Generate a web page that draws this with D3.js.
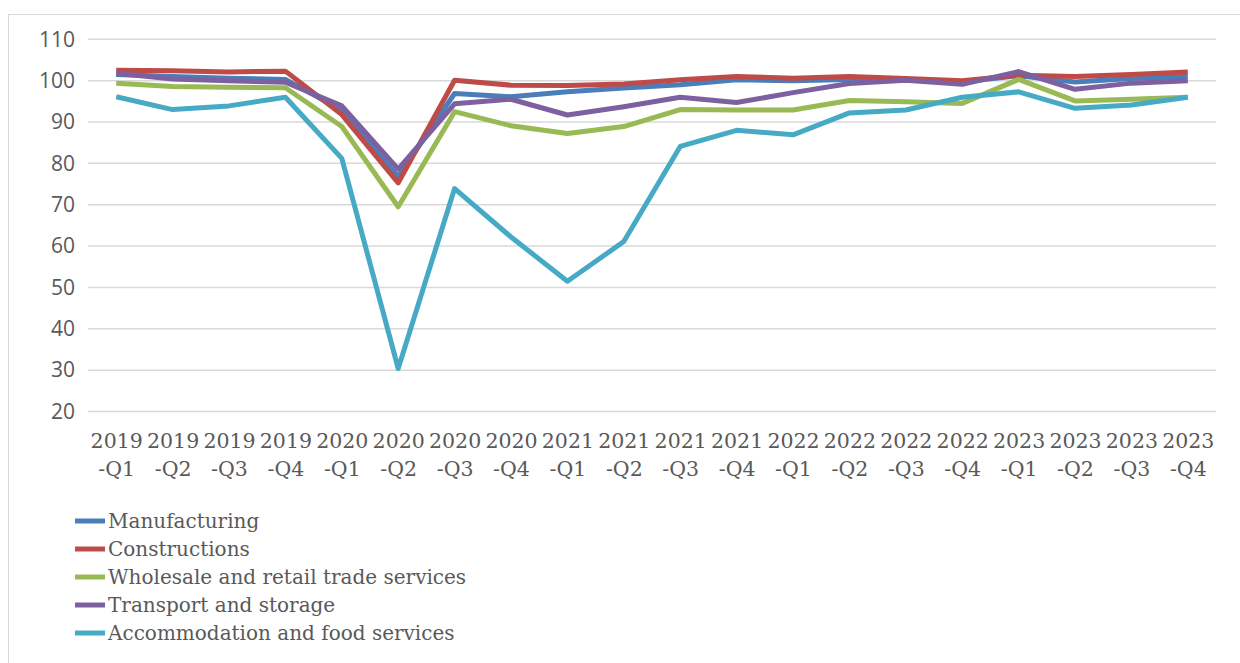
<!DOCTYPE html>
<html>
<head>
<meta charset="utf-8">
<script src="https://cdn.jsdelivr.net/npm/d3@7"></script>
<style>
  html, body { margin: 0; padding: 0; background: #ffffff; }
  svg { display: block; }
</style>
</head>
<body>
<svg id="chart" width="1240" height="663"></svg>
<script>
// Quarterly index values by sector
const quarters = ["2019-Q1","2019-Q2","2019-Q3","2019-Q4","2020-Q1","2020-Q2","2020-Q3","2020-Q4",
  "2021-Q1","2021-Q2","2021-Q3","2021-Q4","2022-Q1","2022-Q2","2022-Q3","2022-Q4",
  "2023-Q1","2023-Q2","2023-Q3","2023-Q4"];

const manufacturing = [101.5, 101.0, 100.6, 100.3, 92.8, 76.8, 96.9, 96.1, 97.3, 98.2,
  99.0, 100.2, 100.0, 100.3, 100.3, 99.7, 101.2, 99.7, 100.5, 101.0];
const constructions = [102.5, 102.4, 102.1, 102.3, 91.8, 75.3, 100.1, 98.9, 98.8, 99.2,
  100.2, 101.0, 100.6, 101.0, 100.5, 100.0, 101.3, 101.0, 101.5, 102.1];
const wholesale = [99.4, 98.6, 98.4, 98.3, 88.9, 69.5, 92.5, 89.1, 87.2, 88.9,
  93.0, 92.9, 92.9, 95.2, 94.9, 94.5, 100.3, 95.1, 95.5, 96.0];
const transport = [101.8, 100.4, 100.0, 99.6, 93.9, 78.6, 94.4, 95.5, 91.7, 93.7,
  96.0, 94.7, 97.1, 99.3, 100.1, 99.1, 102.2, 97.9, 99.4, 100.0];
const accommodation = [96.1, 93.0, 93.9, 96.0, 81.2, 30.4, 73.9, 62.2, 51.5, 61.1,
  84.1, 88.0, 86.9, 92.2, 92.9, 96.0, 97.3, 93.3, 94.1, 96.0];

const seriesNames = ["Manufacturing", "Constructions", "Wholesale and retail trade services",
  "Transport and storage", "Accommodation and food services"];
const seriesValues = [manufacturing, constructions, wholesale, transport, accommodation];
const seriesColors = ["#4a7ebb", "#be4b48", "#98b954", "#7d60a0", "#46aac5"];

const yTicks = [20, 30, 40, 50, 60, 70, 80, 90, 100, 110];

const svg = d3.select("#chart");

// Outer frame
svg.append("rect")
  .attr("x", 8.5).attr("y", 14.5)
  .attr("width", 1260).attr("height", 700)
  .attr("fill", "none").attr("stroke", "#d9d9d9").attr("stroke-width", 1);

const plot = { left: 88, right: 1216, top: 39.3, bottom: 411.5 };

const x = d3.scalePoint().domain(quarters).range([plot.left, plot.right]).padding(0.5);
const y = d3.scaleLinear().domain([20, 110]).range([plot.bottom, plot.top]);

// Horizontal gridlines
svg.append("g")
  .selectAll("line")
  .data(yTicks)
  .join("line")
  .attr("x1", plot.left).attr("x2", plot.right)
  .attr("y1", d => y(d)).attr("y2", d => y(d))
  .attr("stroke", "#d9d9d9").attr("stroke-width", 1.5);

// Y axis labels
const yAxis = svg.append("g")
  .attr("transform", `translate(${plot.left - 13},0)`)
  .call(d3.axisLeft(y).tickValues(yTicks).tickSize(0).tickPadding(0));
yAxis.select(".domain").remove();
yAxis.selectAll("text")
  .attr("fill", "#595959")
  .style("font-family", "'Open Sans', sans-serif")
  .style("font-size", "21px");

// X axis labels (two lines: year and quarter)
const xAxis = svg.append("g")
  .attr("transform", `translate(0,${plot.bottom})`)
  .call(d3.axisBottom(x).tickSize(0).tickFormat(""));
xAxis.select(".domain").remove();
xAxis.selectAll(".tick text").remove();
xAxis.selectAll(".tick").each(function(d) {
  const parts = d.split("-");
  const t = d3.select(this).append("text")
    .attr("text-anchor", "middle")
    .attr("fill", "#595959")
    .style("font-family", "'DejaVu Serif', serif")
    .style("font-size", "20.5px");
  t.append("tspan").attr("x", 0).attr("y", 36).text(parts[0]);
  t.append("tspan").attr("x", 0).attr("y", 64).text("-" + parts[1]);
});

// Series lines
const line = d3.line()
  .x((d, i) => x(quarters[i]))
  .y(d => y(d));

svg.append("g")
  .selectAll("path")
  .data(seriesValues)
  .join("path")
  .attr("d", d => line(d))
  .attr("fill", "none")
  .attr("stroke", (d, i) => seriesColors[i])
  .attr("stroke-width", 5)
  .attr("stroke-linejoin", "round")
  .attr("stroke-linecap", "butt");

// Legend
const legend = svg.append("g")
  .selectAll("g")
  .data(seriesNames)
  .join("g")
  .attr("transform", (d, i) => `translate(75,${521 + i * 28})`);
legend.append("line")
  .attr("x1", 0).attr("x2", 30)
  .attr("y1", 0).attr("y2", 0)
  .attr("stroke", (d, i) => seriesColors[i])
  .attr("stroke-width", 5);
legend.append("text")
  .attr("x", 33).attr("y", 0)
  .attr("dy", "0.35em")
  .attr("fill", "#595959")
  .style("font-family", "'DejaVu Serif', serif")
  .style("font-size", "20px")
  .text(d => d);
</script>
</body>
</html>
